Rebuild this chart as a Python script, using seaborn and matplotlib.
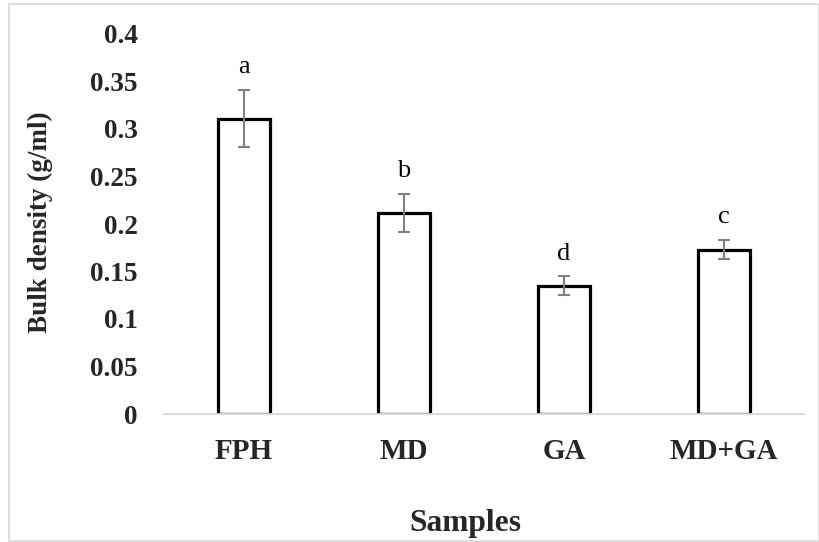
import matplotlib
matplotlib.use("Agg")
import matplotlib.pyplot as plt
import matplotlib.patches as mpatches
import seaborn as sns
import pandas as pd

# =============================================
# data
samples = ['FPH', 'MD', 'GA', 'MD+GA']
bulk_density = [0.311, 0.212, 0.135, 0.173]
bulk_sd = [0.030, 0.020, 0.010, 0.010]
letters = ['a', 'b', 'd', 'c']

yticks = [0, 0.05, 0.1, 0.15, 0.2, 0.25, 0.3, 0.35, 0.4]
ytick_labels = ['0', '0.05', '0.1', '0.15', '0.2', '0.25', '0.3', '0.35', '0.4']

df = pd.DataFrame({'Samples': samples, 'BulkDensity': bulk_density})

# =============================================
# plotting parameters
sns.set_theme(style="white")
plt.rcParams['font.family'] = ['Liberation Serif', 'DejaVu Serif']
ytickFontSize = 19.5
xtickFontSize = 21
labelFontSize = 19.5
xlabelFontSize = 22.7

f = plt.figure(figsize=(8.2, 5.42), dpi=100)
ax = f.add_axes([0.2, 1 - 414 / 542, 640 / 820, 380 / 542])

sns.barplot(data=df, x='Samples', y='BulkDensity', ax=ax, color='white',
            edgecolor='black', linewidth=2.3, width=0.325, errorbar=None,
            saturation=1)

xpos = ax.get_xticks()
ax.errorbar(xpos, bulk_density, yerr=bulk_sd, fmt='none', ecolor='#808080',
            elinewidth=1.5, capsize=4.5, capthick=1.5, zorder=3)

# significance letters
for x, v, e, t in zip(xpos, bulk_density, bulk_sd, letters):
    ax.annotate(t, xy=(x, v + e), xytext=(0, 12), textcoords='offset points',
                ha='center', va='baseline', fontsize=19, color='black')

ax.set_xlim(-0.5, 3.5)
ax.set_ylim(0, 0.4)
ax.set_yticks(yticks)
ax.set_yticklabels(ytick_labels, fontsize=ytickFontSize, fontweight='bold')
ax.set_xticks(xpos)
ax.set_xticklabels(samples, fontsize=xtickFontSize, fontweight='bold')
ax.tick_params(axis='both', which='both', length=0)
ax.tick_params(axis='y', pad=19)
ax.tick_params(axis='x', pad=17)
ax.set_xlabel('')
ax.set_ylabel('')

for s in ['top', 'right', 'left']:
    ax.spines[s].set_visible(False)
ax.spines['bottom'].set_color('#d9d9d9')
ax.spines['bottom'].set_linewidth(1.3)

f.text(465 / 820, 1 - 531 / 542, 'Samples', ha='center', va='baseline',
       fontsize=xlabelFontSize, fontweight='bold')
f.text(40 / 820, 1 - 222 / 542, 'Bulk density (g/ml)', ha='center', va='center',
       rotation=90, fontsize=labelFontSize, fontweight='bold')

# chart border
f.patches.append(mpatches.Rectangle((9 / 820, 1 / 542), 810 / 820, 537 / 542,
                                    transform=f.transFigure, fill=False,
                                    edgecolor='#d9d9d9', linewidth=1.2))

plt.savefig('out.png', dpi=100)
plt.close()
